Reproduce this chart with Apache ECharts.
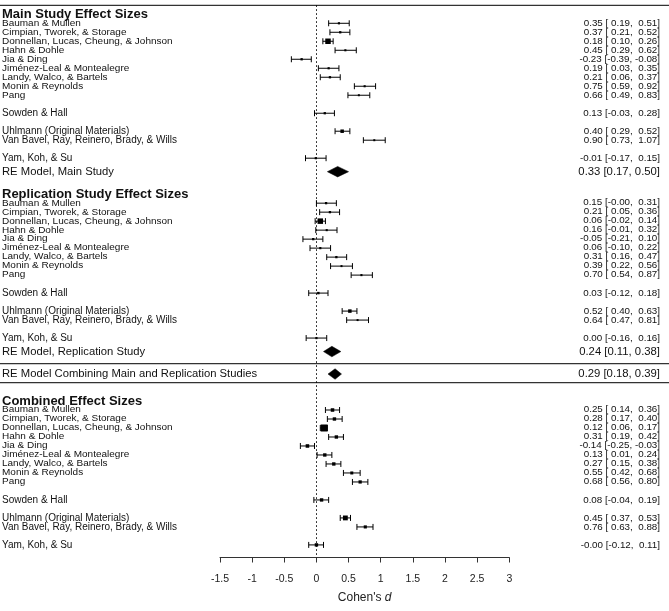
<!DOCTYPE html>
<html><head><meta charset="utf-8">
<script src="https://cdn.jsdelivr.net/npm/echarts@6/dist/echarts.min.js"></script>
<style>html,body{margin:0;padding:0;background:#fff}#c{width:669px;height:611px}</style>
</head><body><div id="c"></div>
<script>
// ---------- data ----------
const studies = [
  "Bauman & Mullen",
  "Cimpian, Tworek, & Storage",
  "Donnellan, Lucas, Cheung, & Johnson",
  "Hahn & Dohle",
  "Jia & Ding",
  "Jiménez-Leal & Montealegre",
  "Landy, Walco, & Bartels",
  "Monin & Reynolds",
  "Pang",
  "Sowden & Hall",
  "Uhlmann (Original Materials)",
  "Van Bavel, Ray, Reinero, Brady, & Wills",
  "Yam, Koh, & Su"
];
// row offset of each study below its section heading
const studyOffsets = [1, 2, 3, 4, 5, 6, 7, 8, 9, 11, 13, 14, 16];

const mainEst = [0.35, 0.37, 0.18, 0.45, -0.23, 0.19, 0.21, 0.75, 0.66, 0.13, 0.40, 0.90, -0.01];
const mainLb  = [0.19, 0.21, 0.10, 0.29, -0.39, 0.03, 0.06, 0.59, 0.49, -0.03, 0.29, 0.73, -0.17];
const mainUb  = [0.51, 0.52, 0.26, 0.62, -0.08, 0.35, 0.37, 0.92, 0.83, 0.28, 0.52, 1.07, 0.15];

const repEst = [0.15, 0.21, 0.06, 0.16, -0.05, 0.06, 0.31, 0.39, 0.70, 0.03, 0.52, 0.64, 0.00];
const repLb  = [-0, 0.05, -0.02, -0.01, -0.21, -0.10, 0.16, 0.22, 0.54, -0.12, 0.40, 0.47, -0.16];
const repUb  = [0.31, 0.36, 0.14, 0.32, 0.10, 0.22, 0.47, 0.56, 0.87, 0.18, 0.63, 0.81, 0.16];

const combEst = [0.25, 0.28, 0.12, 0.31, -0.14, 0.13, 0.27, 0.55, 0.68, 0.08, 0.45, 0.76, -0];
const combLb  = [0.14, 0.17, 0.06, 0.19, -0.25, 0.01, 0.15, 0.42, 0.56, -0.04, 0.37, 0.63, -0.12];
const combUb  = [0.36, 0.40, 0.17, 0.42, -0.03, 0.24, 0.38, 0.68, 0.80, 0.19, 0.53, 0.88, 0.11];

const headings = ["Main Study Effect Sizes", "Replication Study Effect Sizes", "Combined Effect Sizes"];
const headingRows = [0, 20, 43];

const summaryLabels = ["RE Model, Main Study", "RE Model, Replication Study", "RE Model Combining Main and Replication Studies"];
const summaryEst = [0.33, 0.24, 0.29];
const summaryLb  = [0.17, 0.11, 0.18];
const summaryUb  = [0.50, 0.38, 0.39];
const summaryRows = [17.5, 37.5, 40];

const separatorRows = [-1, 38.85, 40.95];

const xMin = -1.5, xMax = 3, xStep = 0.5;
const axisTitle = "Cohen's {it|d}";

// ---------- build ----------
const FONT = "'Liberation Sans', Arial, sans-serif";
const sections = [
  {est: mainEst, lb: mainLb, ub: mainUb, minS: 2, maxS: 5.5},
  {est: repEst, lb: repLb, ub: repUb, minS: 2, maxS: 5.5},
  {est: combEst, lb: combLb, ub: combUb, minS: 3, maxS: 7}
];
function fmt(v) {
  const neg = v < 0 || Object.is(v, -0);
  return (neg ? "-" : "") + Math.abs(v).toFixed(2);
}
function pad(v) {
  const s = fmt(v);
  return s[0] === "-" ? s : " " + s;
}
// kinds: 0 study, 1 summary, 2 heading, 3 separator
const items = [];
const texts = [];
sections.forEach((sec, s) => {
  const prec = sec.lb.map((l, i) => 1 / (sec.ub[i] - l));
  const pmin = Math.min(...prec), pmax = Math.max(...prec);
  items.push([0, 0, 0, headingRows[s], 2, s, texts.length, 0]);
  texts.push({left: headings[s]});
  studies.forEach((name, i) => {
    const size = sec.minS + (prec[i] - pmin) / (pmax - pmin) * (sec.maxS - sec.minS);
    items.push([sec.est[i], sec.lb[i], sec.ub[i], headingRows[s] + studyOffsets[i], 0, i < 9 ? 1 : 0, texts.length, size]);
    texts.push({left: name, right: fmt(sec.est[i]) + " [" + pad(sec.lb[i]) + ", " + pad(sec.ub[i]) + "]"});
  });
});
summaryLabels.forEach((lab, k) => {
  items.push([summaryEst[k], summaryLb[k], summaryUb[k], summaryRows[k], 1, k, texts.length, 0]);
  texts.push({left: lab, right: fmt(summaryEst[k]) + " [" + fmt(summaryLb[k]) + ", " + fmt(summaryUb[k]) + "]"});
});
separatorRows.forEach(r => items.push([0, 0, 0, r, 3, 0, -1, 0]));

function txt(x, y, str, size, align, weight, sy) {
  return {
    type: "text", x: x, y: y, scaleY: sy || 1,
    style: {x: 0, y: 0, text: str, fontSize: size, fontFamily: FONT, fontWeight: weight || "normal",
            fill: "#111", align: align, verticalAlign: "middle"}
  };
}

function renderItem(params, api) {
  const kind = api.value(4);
  const row = api.value(3);
  const y = api.coord([0, row])[1];
  const W = api.getWidth();
  const t = texts[api.value(6)];
  if (kind === 3) {
    return {type: "line", shape: {x1: 0, y1: y, x2: W, y2: y}, style: {stroke: "#333", lineWidth: 1.3}};
  }
  if (kind === 2) {
    return txt(2, y, t.left, 13, "left", "bold");
  }
  const xe = api.coord([api.value(0), row])[0];
  const xl = api.coord([api.value(1), row])[0];
  const xu = api.coord([api.value(2), row])[0];
  const children = [];
  if (kind === 1) {
    const h = 10.5;
    children.push({type: "polygon", shape: {points: [[xl, y], [xe, y - h / 2], [xu, y], [xe, y + h / 2]]},
                   style: {fill: "#000", stroke: "#000", lineWidth: 0.5}});
    children.push(txt(2, y, t.left, 11.25, "left"));
    children.push(txt(660, y, t.right, 11.3, "right"));
  } else {
    const sy = api.value(5) === 1 ? 0.86 : 1;
    const cap = 3;
    const st = {stroke: "#000", lineWidth: 1};
    children.push({type: "line", shape: {x1: xl, y1: y, x2: xu, y2: y}, style: st});
    children.push({type: "line", shape: {x1: xl, y1: y - cap, x2: xl, y2: y + cap}, style: st});
    children.push({type: "line", shape: {x1: xu, y1: y - cap, x2: xu, y2: y + cap}, style: st});
    const s = api.value(7);
    children.push({type: "rect", shape: {x: xe - s / 2, y: y - s / 2, width: s, height: s}, style: {fill: "#000"}});
    children.push(txt(2, y, t.left, 10, "left", "normal", sy));
    children.push(txt(660, y, t.right, 9.8, "right", "normal", sy));
  }
  return {type: "group", children: children};
}

const chart = echarts.init(document.getElementById("c"), null, {renderer: "canvas"});
chart.setOption({
  animation: false,
  backgroundColor: "#fff",
  grid: {left: 220, right: 669 - 509.3, top: 5.3, bottom: 611 - 557.5, containLabel: false},
  xAxis: {
    type: "value", min: xMin, max: xMax, interval: xStep,
    axisLine: {show: true, onZero: false, lineStyle: {color: "#333", width: 1}},
    axisTick: {show: true, inside: false, length: 5, lineStyle: {color: "#333"}},
    axisLabel: {color: "#222", fontSize: 10.5, fontFamily: FONT, margin: 16},
    splitLine: {show: false},
    name: axisTitle, nameLocation: "middle", nameGap: 34,
    nameTextStyle: {color: "#222", fontSize: 12, fontFamily: FONT, rich: {it: {fontStyle: "italic", fontSize: 12, color: "#222", fontFamily: FONT}}}
  },
  yAxis: {type: "value", inverse: true, min: -1, max: 60.4, show: false, splitLine: {show: false}},
  series: [
    {
      type: "line", data: [], silent: true,
      markLine: {silent: true, symbol: "none", label: {show: false}, animation: false,
                 lineStyle: {type: [1.5, 2.5], color: "#000", width: 1}, data: [{xAxis: 0}]}
    },
    {
      type: "custom", renderItem: renderItem, data: items, clip: false, silent: true,
      encode: {x: [0, 1, 2], y: 3}
    }
  ]
});
</script></body></html>
